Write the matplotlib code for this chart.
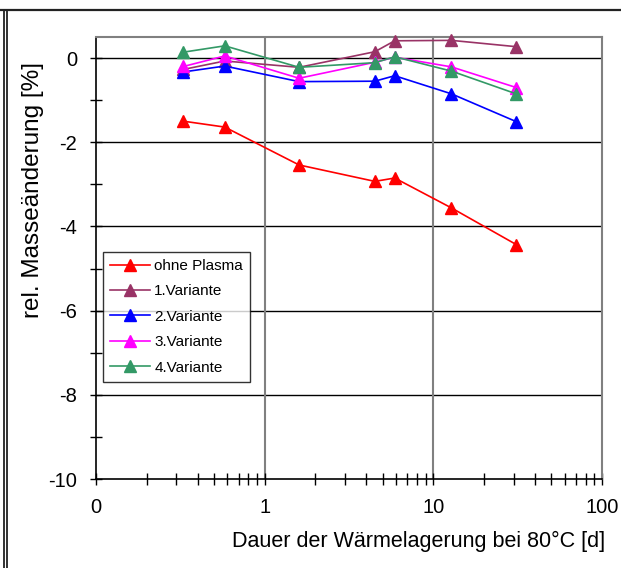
import matplotlib
matplotlib.use("Agg")
import matplotlib.pyplot as plt
from matplotlib.ticker import FixedLocator, FuncFormatter, LogLocator, NullFormatter, MultipleLocator
from matplotlib.lines import Line2D

plt.rcParams['font.family'] = ['Liberation Sans', 'DejaVu Sans']
plt.rcParams['axes.unicode_minus'] = False

# Storage duration at 80 °C in days
days = [0.33, 0.58, 1.6, 4.5, 5.9, 12.8, 31.0]

# Relative mass change in percent
ohne_plasma = [-1.50, -1.64, -2.54, -2.93, -2.85, -3.56, -4.43]
variante_1 = [-0.27, -0.07, -0.22, 0.15, 0.41, 0.42, 0.27]
variante_2 = [-0.33, -0.19, -0.56, -0.55, -0.42, -0.85, -1.51]
variante_3 = [-0.20, 0.05, -0.48, -0.10, 0.02, -0.21, -0.70]
variante_4 = [0.14, 0.29, -0.22, -0.11, 0.03, -0.31, -0.85]

series = [
    ("ohne Plasma", ohne_plasma, "#FF0000"),
    ("1.Variante", variante_1, "#993366"),
    ("2.Variante", variante_2, "#0000FF"),
    ("3.Variante", variante_3, "#FF00FF"),
    ("4.Variante", variante_4, "#339966"),
]

x_ticks = [0.1, 1, 10, 100]
x_tick_labels = ["0", "1", "10", "100"]
y_ticks = [-10, -8, -6, -4, -2, 0]

W, H = 621, 568
fig = plt.figure(figsize=(W / 100, H / 100), dpi=100)
ax = fig.add_axes([96 / W, 1 - 479 / H, (602 - 96) / W, (479 - 37) / H])

for name, vals, col in series:
    ax.plot(days, vals, color=col, lw=1.2, marker="^", markersize=8,
            markeredgecolor=col, markerfacecolor=col, label=name, clip_on=False, zorder=3)

ax.set_xscale("log")
ax.set_xlim(0.1, 100)
ax.set_ylim(-10, 0.5)

ax.xaxis.set_major_locator(FixedLocator(x_ticks))
ax.xaxis.set_major_formatter(FuncFormatter(lambda v, p: x_tick_labels[x_ticks.index(v)] if v in x_ticks else ""))
ax.xaxis.set_minor_locator(LogLocator(base=10, subs=range(2, 10)))
ax.xaxis.set_minor_formatter(NullFormatter())

ax.yaxis.set_major_locator(FixedLocator(y_ticks))
ax.yaxis.set_minor_locator(MultipleLocator(1))

ax.tick_params(axis="both", which="major", direction="inout", length=9, width=1,
               labelsize=14.5, color="black")
ax.tick_params(axis="both", which="minor", direction="inout", length=8, width=1, color="black")
ax.tick_params(axis="x", which="major", pad=9)
ax.tick_params(axis="y", which="major", pad=9)

# Grid: black horizontals at labelled values, gray verticals at decades
for yv in y_ticks[1:]:
    ax.axhline(yv, color="black", lw=1.0, zorder=1)
for xv in x_ticks[1:-1]:
    ax.axvline(xv, color="#808080", lw=1.5, zorder=1)

for side in ["top", "right"]:
    ax.spines[side].set_color("#808080")
    ax.spines[side].set_linewidth(1.5)
for side in ["left", "bottom"]:
    ax.spines[side].set_color("black")
    ax.spines[side].set_linewidth(1.2)

leg = ax.legend(loc="upper left", bbox_to_anchor=(103 / W, 1 - 252 / H),
                bbox_transform=fig.transFigure, fontsize=11, frameon=True,
                fancybox=False, edgecolor="black", handlelength=2.6,
                labelspacing=0.75, borderpad=0.45, handletextpad=0.3,
                borderaxespad=0)
leg.get_frame().set_linewidth(1.0)

fig.text(33 / W, 1 - 190 / H, "rel. Masseänderung [%]", rotation=90,
         ha="center", va="center", fontsize=17.5)
fig.text(605 / W, 1 - 541 / H, "Dauer der Wärmelagerung bei 80°C [d]",
         ha="right", va="center", fontsize=15.5)

# Outer frame lines at the top and left edges
fig.add_artist(Line2D([0, 1], [1 - 9.5 / H, 1 - 9.5 / H], transform=fig.transFigure,
                      color="#222222", lw=1.6))
for xp in [4.2, 7.0]:
    fig.add_artist(Line2D([xp / W, xp / W], [0, 1 - 9.5 / H], transform=fig.transFigure,
                          color="#222222", lw=1.3))

fig.savefig("out.png", dpi=100)
